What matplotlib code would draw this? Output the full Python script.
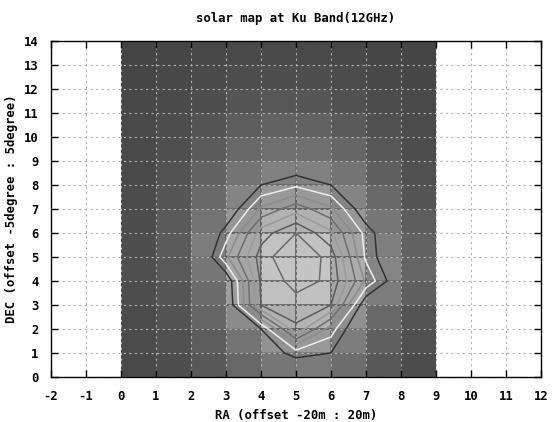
import numpy as np
import matplotlib
matplotlib.use("Agg")
import matplotlib.pyplot as plt
from matplotlib.colors import LinearSegmentedColormap, PowerNorm
from matplotlib.collections import LineCollection

# ---- data: grid point values (rows: DEC 0..14, cols: RA 0..9) ----
ra_points = [0, 1, 2, 3, 4, 5, 6, 7, 8, 9]
dec_points = [0, 1, 2, 3, 4, 5, 6, 7, 8, 9, 10, 11, 12, 13, 14]
signal = [
    [1, 2, 4, 8, 15, 20, 18, 8, 3, 1],      # dec 0
    [1, 3, 5, 14, 30, 45, 40, 16, 5, 2],    # dec 1
    [1, 4, 6, 18, 40, 88, 55, 20, 8, 2],    # dec 2
    [1, 4, 9, 28, 90, 96, 90, 30, 12, 3],   # dec 3
    [2, 5, 10, 30, 92, 104, 98, 58, 28, 6], # dec 4
    [2, 6, 13, 58, 95, 110, 96, 48, 22, 5], # dec 5
    [1, 5, 15, 45, 85, 100, 82, 46, 22, 4], # dec 6
    [1, 4, 12, 28, 62, 76, 62, 30, 14, 3],  # dec 7
    [1, 3, 10, 22, 40, 48, 40, 22, 8, 2],   # dec 8
    [1, 2, 7, 16, 26, 28, 26, 14, 5, 2],    # dec 9
    [1, 2, 5, 10, 17, 18, 16, 8, 3, 2],     # dec 10
    [1, 2, 3, 6, 10, 10, 9, 4, 2, 2],       # dec 11
    [1, 1, 2, 3, 5, 5, 4, 2, 1, 1],         # dec 12
    [0, 1, 1, 2, 2, 2, 2, 1, 1, 1],         # dec 13
    [0, 0, 1, 1, 1, 1, 1, 1, 0, 0],         # dec 14
]
contour_levels = [40, 50, 60, 70, 80, 90, 100]
contour_colors = ['#333333', '#eeeeee', '#8c8c8c', '#6e6e6e', '#9a9a9a', '#5c5c5c', '#6a6a6a']

xticks = list(range(-2, 13))
yticks = list(range(0, 15))
title = "solar map at Ku Band(12GHz)"
xlabel = "RA (offset -20m : 20m)"
ylabel = "DEC (offset -5degree : 5degree)"

# ---- figure ----
FONT = dict(family='DejaVu Sans Mono', weight='bold', size=8.8)
fig = plt.figure(figsize=(5.53, 4.22), dpi=100)
ax = fig.add_axes([51/553, 1-377/422, 490/553, 336/422])

X = np.array(ra_points, dtype=float)
Y = np.array(dec_points, dtype=float)
Z = np.array(signal, dtype=float)
# pm3d-style: each cell coloured by the mean of its four corners
C = 0.25 * (Z[:-1, :-1] + Z[1:, :-1] + Z[:-1, 1:] + Z[1:, 1:])
cmap = LinearSegmentedColormap.from_list('g', ['#424242', '#c8c8c8'])
ax.pcolormesh(X, Y, C, cmap=cmap, norm=PowerNorm(gamma=0.7, vmin=0, vmax=105),
              shading='flat', zorder=1)

# mesh lines visible on the bright part of the surface
segs, cols = [], []
for j in range(len(Y)):
    for i in range(len(X) - 1):
        m = 0.5 * (Z[j, i] + Z[j, i+1])
        segs.append([(X[i], Y[j]), (X[i+1], Y[j])]); cols.append(m)
for i in range(len(X)):
    for j in range(len(Y) - 1):
        m = 0.5 * (Z[j, i] + Z[j+1, i])
        segs.append([(X[i], Y[j]), (X[i], Y[j+1])]); cols.append(m)
alphas = np.clip((np.array(cols) - 25) / 35.0, 0, 1) * 0.85
rgba = [(0.3, 0.3, 0.3, a) for a in alphas]
ax.add_collection(LineCollection(segs, colors=rgba, linewidths=1.2, zorder=2))

ax.contour(X, Y, Z, levels=contour_levels, colors=contour_colors,
           linewidths=1.1, zorder=3)

ax.set_xlim(-2, 12)
ax.set_ylim(0, 14)
ax.set_xticks(xticks)
ax.set_yticks(yticks)
ax.set_xticklabels([str(t) for t in xticks], fontdict=FONT)
ax.set_yticklabels([str(t) for t in yticks], fontdict=FONT)
ax.tick_params(direction='in', length=5, width=1, top=True, right=True,
               color='black')
ax.tick_params(axis='x', pad=9)
ax.tick_params(axis='y', pad=9)
ax.grid(True, color='#b4b4b4', linestyle=(0, (2, 3)), linewidth=0.8, zorder=4)
ax.set_axisbelow(False)
for s in ax.spines.values():
    s.set_linewidth(1.0)
    s.set_zorder(5)

ax.set_title(title, fontdict=FONT, pad=14)
ax.set_xlabel(xlabel, fontdict=FONT, labelpad=5)
ax.set_ylabel(ylabel, fontdict=FONT, labelpad=4)

fig.savefig('out.png', dpi=100)
